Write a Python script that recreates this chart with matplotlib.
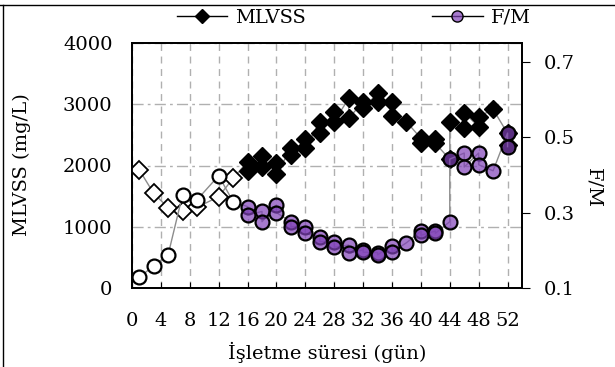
import numpy as np
import matplotlib
matplotlib.use("Agg")
import matplotlib.pyplot as plt
from matplotlib.lines import Line2D

# operation day, MLVSS (mg/L) and F/M
days = [1, 3, 5, 7, 9, 12, 14,
        16, 16, 18, 18, 20, 20, 22, 22, 24, 24, 26, 26, 28, 28, 30, 30,
        32, 32, 34, 34, 36, 36, 38, 40, 40, 42, 42, 44, 44, 46, 46, 48, 48,
        50, 52, 52]
mlvss = [1930, 1546, 1311, 1262, 1317, 1491, 1791,
         2062, 1915, 2155, 1981, 2036, 1856, 2280, 2170, 2427, 2281, 2715, 2525,
         2879, 2715, 3097, 2770, 3042, 2933, 3178, 3042, 3042, 2808, 2715,
         2444, 2362, 2427, 2362, 2101, 2715, 2617, 2862, 2634, 2797,
         2917, 2525, 2330]
fm = [0.128, 0.159, 0.188, 0.347, 0.334, 0.398, 0.329,
      0.316, 0.294, 0.303, 0.276, 0.320, 0.300, 0.276, 0.263, 0.263, 0.245,
      0.236, 0.223, 0.223, 0.208, 0.214, 0.192, 0.201, 0.195, 0.194, 0.188,
      0.212, 0.195, 0.220, 0.251, 0.240, 0.251, 0.245, 0.276, 0.442,
      0.458, 0.421, 0.458, 0.427, 0.411, 0.511, 0.475]

x_ticks = list(range(0, 53, 4))
left_ticks = [0, 1000, 2000, 3000, 4000]
right_ticks = [0.1, 0.3, 0.5, 0.7]

days = np.array(days)
mlvss = np.array(mlvss)
fm = np.array(fm)
early = days < 15

plt.rcParams["font.family"] = "DejaVu Serif"
plt.rcParams["font.size"] = 14

fig = plt.figure(figsize=(6.15, 3.67), dpi=100)
ax = fig.add_axes([132/615, 1-288/367, 390/615, 245/367])
ax2 = ax.twinx()

purple = (0.50, 0.26, 0.72, 0.7)
line_col = "#8c8c8c"

# MLVSS
ax.plot(days, mlvss, color=line_col, lw=1, zorder=2)
ax.plot(days[early], mlvss[early], "D", ms=9, mfc="white", mec="black", mew=1.3, ls="none", zorder=3)
ax.plot(days[~early], mlvss[~early], "D", ms=9, color="black", ls="none", zorder=3)

# F/M
ax2.plot(days, fm, color=line_col, lw=1, zorder=2)
ax2.plot(days[early], fm[early], "o", ms=10, mfc="white", mec="black", mew=1.6, ls="none", zorder=3)
ax2.plot(days[~early], fm[~early], "o", ms=10, mfc=purple, mec="black", mew=1.6, ls="none", zorder=3)

ax.set_xlim(0, 54)
ax.set_ylim(0, 4000)
ax2.set_ylim(0.1, 0.75)
ax.set_xticks(x_ticks)
ax.set_yticks(left_ticks)
ax2.set_yticks(right_ticks)

ax.set_axisbelow(True)
ax.grid(axis="x", ls=(0, (5, 4)), color="#b0b0b0", lw=1)
ax.grid(axis="y", ls=(0, (8, 3, 2, 3)), color="#b0b0b0", lw=1)

ax.tick_params(axis="x", direction="in", length=4, pad=17)
ax.tick_params(axis="y", length=0, pad=14)
ax2.tick_params(axis="y", direction="out", length=6, pad=10)
for a in (ax, ax2):
    for s in a.spines.values():
        s.set_linewidth(1.3)

fig.text(22/615, 1-165/367, "MLVSS (mg/L)", rotation=90, ha="center", va="center")
fig.text(593/615, 1-188/367, "F/M", rotation=270, ha="center", va="center")
fig.text(327/615, 1-352/367, "İşletme süresi (gün)", ha="center", va="center")

handles = [
    Line2D([], [], color="black", lw=1, marker="D", ms=7, mfc="black", mec="black"),
    Line2D([], [], color="black", lw=1, marker="o", ms=8, mfc=purple, mec="black"),
]
fig.legend(handles, ["MLVSS", "F/M"], loc="center", bbox_to_anchor=(0.575, 1-18/367),
           ncol=2, frameon=False, columnspacing=6.5, handlelength=2.6, handletextpad=0.4)

# chart border pieces
fig.add_artist(Line2D([0, 1], [1-5/367, 1-5/367], color="black", lw=1, transform=fig.transFigure))
fig.add_artist(Line2D([3/615, 3/615], [0, 1-5/367], color="black", lw=1, transform=fig.transFigure))

fig.savefig("out.png", dpi=100)
